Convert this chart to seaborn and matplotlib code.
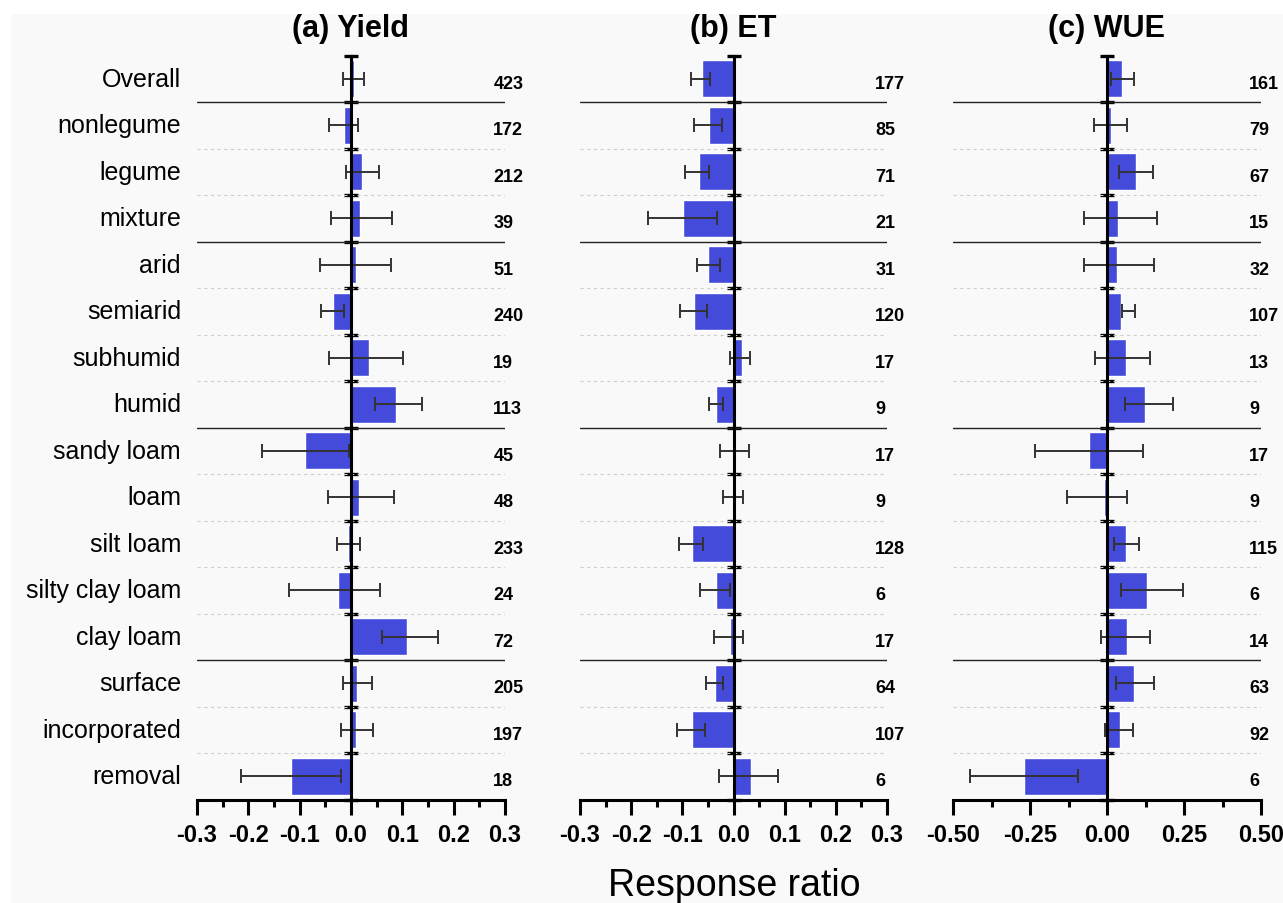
import pandas as pd
import matplotlib.pyplot as plt
import matplotlib.ticker as mticker
from matplotlib.patches import Rectangle
import seaborn as sns

# Categories (top to bottom)
categories = ['Overall', 'nonlegume', 'legume', 'mixture', 'arid', 'semiarid',
              'subhumid', 'humid', 'sandy loam', 'loam', 'silt loam',
              'silty clay loam', 'clay loam', 'surface', 'incorporated', 'removal']

# (a) Yield
yield_rr = [0.006, -0.014, 0.021, 0.017, 0.010, -0.036, 0.036, 0.088,
            -0.090, 0.016, -0.006, -0.025, 0.109, 0.012, 0.010, -0.116]
yield_lo = [-0.015, -0.042, -0.010, -0.038, -0.060, -0.058, -0.043, 0.046,
            -0.173, -0.044, -0.027, -0.121, 0.061, -0.015, -0.020, -0.215]
yield_hi = [0.026, 0.014, 0.055, 0.079, 0.077, -0.014, 0.102, 0.138,
            -0.003, 0.084, 0.017, 0.057, 0.169, 0.040, 0.042, -0.020]
yield_n = [423, 172, 212, 39, 51, 240, 19, 113, 45, 48, 233, 24, 72, 205, 197, 18]

# (b) ET
et_rr = [-0.061, -0.047, -0.068, -0.099, -0.050, -0.078, 0.016, -0.034,
         0.001, 0.001, -0.082, -0.034, -0.007, -0.037, -0.081, 0.034]
et_lo = [-0.083, -0.078, -0.094, -0.168, -0.072, -0.104, -0.006, -0.047,
         -0.026, -0.021, -0.106, -0.066, -0.038, -0.053, -0.111, -0.028]
et_hi = [-0.045, -0.022, -0.048, -0.032, -0.026, -0.052, 0.033, -0.021,
         0.030, 0.018, -0.060, -0.007, 0.018, -0.021, -0.056, 0.087]
et_n = [177, 85, 71, 21, 31, 120, 17, 9, 17, 9, 128, 6, 17, 64, 107, 6]

# (c) WUE
wue_rr = [0.049, 0.014, 0.094, 0.036, 0.031, 0.046, 0.062, 0.122,
          -0.060, -0.011, 0.063, 0.129, 0.065, 0.088, 0.043, -0.271]
wue_lo = [0.013, -0.043, 0.039, -0.074, -0.074, 0.049, -0.038, 0.058,
          -0.234, -0.129, 0.023, 0.047, -0.019, 0.029, -0.006, -0.445]
wue_hi = [0.089, 0.066, 0.148, 0.163, 0.154, 0.090, 0.140, 0.214,
          0.118, 0.065, 0.103, 0.248, 0.140, 0.151, 0.084, -0.095]
wue_n = [161, 79, 67, 15, 32, 107, 13, 9, 17, 9, 115, 6, 14, 63, 92, 6]

group_breaks = [0.5, 3.5, 7.5, 12.5]

sns.set_style('ticks')
plt.rcParams['font.family'] = ['Liberation Sans', 'DejaVu Sans']
plt.rcParams['axes.unicode_minus'] = False
plt.rcParams['text.color'] = 'black'
plt.rcParams['xtick.color'] = 'black'
plt.rcParams['ytick.color'] = 'black'
plt.rcParams['axes.edgecolor'] = 'black'

bar_color = '#444bdb'
fig = plt.figure(figsize=(12.83, 9.04), dpi=100, facecolor='#f9f9f9')
fig.patches.append(Rectangle((0, 1 - 14 / 904), 1, 14 / 904, transform=fig.transFigure,
                             color='white', zorder=-10))
fig.patches.append(Rectangle((0, 0), 10 / 1283, 1, transform=fig.transFigure,
                             color='white', zorder=-10))

bottom = 1 - 800.5 / 904
height = (800.5 - 56.5) / 904
panels = [
    ('(a) Yield', yield_rr, yield_lo, yield_hi, yield_n, 197, 505, 0.3, 0.1, 0.05, '%.1f'),
    ('(b) ET', et_rr, et_lo, et_hi, et_n, 580, 887, 0.3, 0.1, 0.05, '%.1f'),
    ('(c) WUE', wue_rr, wue_lo, wue_hi, wue_n, 953, 1261, 0.5, 0.25, 0.125, '%.2f'),
]

for i, (title, rr, lo, hi, n, x0, x1, lim, major, minor, fmt) in enumerate(panels):
    ax = fig.add_axes([x0 / 1283, bottom, (x1 - x0) / 1283, height])
    ax.set_facecolor('none')
    df = pd.DataFrame({'category': categories, 'ratio': rr})
    sns.barplot(data=df, x='ratio', y='category', order=categories, orient='h',
                color=bar_color, saturation=1, width=0.8, ax=ax, zorder=2)
    ypos = list(range(len(categories)))
    mid = [(a + b) / 2 for a, b in zip(lo, hi)]
    half = [(b - a) / 2 for a, b in zip(lo, hi)]
    ax.errorbar(mid, ypos, xerr=half, fmt='none', ecolor='#333333',
                elinewidth=1.4, capsize=5, capthick=1.4, zorder=3)

    # row separators
    for b in [k + 0.5 for k in range(len(categories) - 1)]:
        if b in group_breaks:
            ax.axhline(b, color='#222222', lw=1.0, zorder=1)
        else:
            ax.axhline(b, color='#cfcfcf', lw=0.8, ls=(0, (3, 3)), zorder=1)

    ax.set_ylim(len(categories) - 0.5, -0.5)
    ax.set_xlim(-lim, lim)
    ax.set_xlabel('')
    ax.set_ylabel('')

    # axes styling
    ax.spines['top'].set_visible(False)
    ax.spines['right'].set_visible(False)
    ax.spines['left'].set_position(('data', 0))
    ax.spines['left'].set_linewidth(2.2)
    ax.spines['left'].set_zorder(4)
    ax.spines['bottom'].set_linewidth(2.2)
    ax.set_yticks([k - 0.5 for k in range(len(categories) + 1)])
    ax.set_yticklabels([])
    ax.tick_params(axis='y', direction='inout', length=10, width=2.4, color='black')

    ax.xaxis.set_major_locator(mticker.MultipleLocator(major))
    ax.xaxis.set_minor_locator(mticker.MultipleLocator(minor))
    ax.xaxis.set_major_formatter(mticker.FormatStrFormatter(fmt))
    ax.tick_params(axis='x', which='major', direction='out', length=11, width=2.2,
                   pad=6, labelsize=17, color='black', labelcolor='black')
    ax.tick_params(axis='x', which='minor', direction='out', length=5, width=2.2,
                   color='black')
    for lab in ax.get_xticklabels():
        lab.set_fontweight('bold')

    ax.set_title(title, fontsize=22, fontweight='bold', pad=14, color='black')

    # sample sizes
    for y, cnt in zip(ypos, n):
        ax.text(0.962, y + 0.1, str(cnt), transform=ax.get_yaxis_transform(),
                ha='left', va='center', fontsize=13, fontweight='bold', color='black')

    # category labels on the first panel only
    if i == 0:
        for y, cat in zip(ypos, categories):
            ax.text(-0.052, y, cat, transform=ax.get_yaxis_transform(),
                    ha='right', va='center', fontsize=18, color='black')

fig.text(734 / 1283, 1 - 896 / 904, 'Response ratio', ha='center', va='baseline',
         fontsize=27, color='black')

fig.savefig('out.png', dpi=100, facecolor=fig.get_facecolor())
